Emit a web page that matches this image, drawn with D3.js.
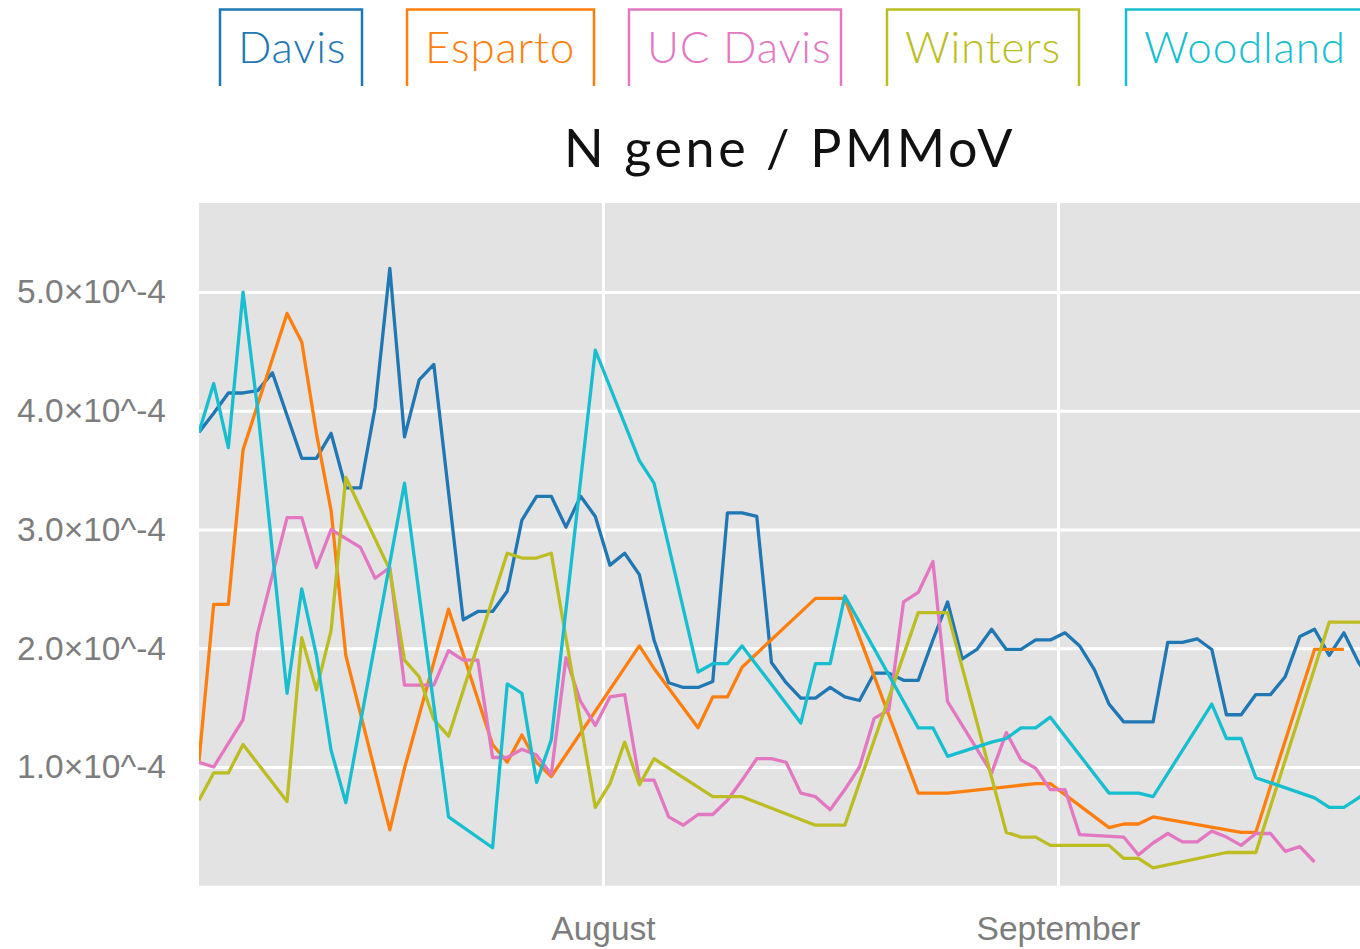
<!DOCTYPE html>
<html>
<head>
<meta charset="utf-8">
<script src="https://cdn.jsdelivr.net/npm/d3@7"></script>
<style>
  body { margin: 0; background: #fff; }
  svg { display: block; }
</style>
</head>
<body>
<div id="chart"></div>
<script>
// values are in units of 1e-4 (N gene / PMMoV), one entry per day from firstDay
var unit = 1e-4;
var firstDay = "2021-07-04 11:30";
var lastDay = "2021-09-23 00:10";

var sites = ["Davis", "Esparto", "UC Davis", "Winters", "Woodland"];
var siteColors = ["#1f77b4", "#ff7f0e", "#e377c2", "#bcbd22", "#17becf"];

var davis = [3.82, 3.98, 4.15, 4.15, 4.17, 4.32, null, 3.60, 3.60, 3.81,
  3.35, 3.35, 4.03, 5.20, 3.78, 4.26, 4.39, null, 2.24, 2.31,
  2.31, 2.48, 3.08, 3.28, 3.28, 3.02, 3.28, 3.11, 2.70, 2.80,
  2.62, 2.07, 1.71, 1.67, 1.67, 1.72, 3.14, 3.14, 3.11, 1.88,
  1.71, 1.58, 1.58, 1.67, 1.59, 1.56, 1.79, 1.79, 1.73, 1.73,
  2.07, 2.39, 1.91, 1.99, 2.16, 1.99, 1.99, 2.07, 2.07, 2.13,
  2.02, 1.82, 1.53, 1.38, 1.38, 1.38, 2.05, 2.05, 2.08, 1.99,
  1.44, 1.44, 1.61, 1.61, 1.76, 2.10, 2.16, 1.94, 2.13, 1.88,
  1.70];

var esparto = [1.05, 2.37, 2.37, 3.67, null, null, 4.82, 4.58, 3.81, 3.16,
  1.94, null, null, 0.47, 0.99, null, null, 2.33, null, null,
  1.19, 1.04, 1.27, 1.04, 0.92, null, null, null, null, null,
  2.02, 1.83, null, null, 1.33, 1.59, 1.59, 1.84, null, null,
  null, null, 2.42, 2.42, 2.42, null, null, null, null, 0.78,
  0.78, 0.78, null, null, null, null, null, 0.86, 0.86, null,
  null, null, 0.49, 0.52, 0.52, 0.58, null, null, null, null,
  null, 0.45, 0.45, null, null, null, 1.99, 1.99, 1.99, null,
  null];

var ucDavis = [1.04, 1.00, null, 1.40, 2.13, null, 3.10, 3.10, 2.68, 3.00,
  null, 2.85, 2.59, 2.68, 1.69, 1.69, 1.69, 1.98, 1.90, 1.90,
  1.08, 1.08, 1.15, 1.10, 0.94, 1.92, 1.55, 1.35, 1.59, 1.61,
  0.89, 0.89, 0.58, 0.51, 0.60, 0.60, 0.72, 0.89, 1.07, 1.07,
  1.04, 0.78, 0.75, 0.64, 0.81, 1.00, 1.41, 1.48, 2.39, 2.47,
  2.73, 1.55, null, null, 0.95, 1.29, 1.06, 0.99, 0.81, 0.81,
  0.43, null, null, 0.41, 0.26, 0.36, 0.44, 0.37, 0.37, 0.46,
  0.41, 0.34, 0.44, 0.44, 0.29, 0.33, 0.20, null, null, null,
  null];

var winters = [0.72, 0.95, 0.95, 1.19, null, null, 0.71, 2.09, 1.65, 2.15,
  3.44, null, null, 2.66, 1.90, 1.76, 1.40, 1.26, null, null,
  null, 2.80, 2.76, 2.76, 2.80, null, null, 0.66, 0.86, 1.21,
  0.85, 1.07, null, null, null, 0.75, 0.75, 0.75, null, null,
  null, null, 0.51, 0.51, 0.51, null, null, null, null, 2.30,
  2.30, 2.30, null, null, null, 0.45, 0.41, 0.41, 0.34, null,
  null, null, 0.34, 0.23, 0.23, 0.15, null, null, null, null,
  0.28, 0.28, 0.28, null, null, null, null, 2.22, 2.22, 2.22,
  2.22];

var woodland = [3.82, 4.23, 3.69, 5.00, 4.01, null, 1.62, 2.50, 1.94, 1.14,
  0.70, null, null, null, 3.39, null, null, 0.58, null, null,
  0.32, 1.70, 1.62, 0.87, 1.23, null, null, 4.51, null, null,
  3.58, 3.39, null, null, 1.80, 1.87, 1.87, 2.02, null, null,
  null, 1.37, 1.87, 1.87, 2.44, null, null, null, null, 1.33,
  1.33, 1.09, null, null, 1.21, 1.24, 1.33, 1.33, 1.42, null,
  null, null, 0.78, 0.78, 0.78, 0.75, null, null, null, 1.53,
  1.24, 1.24, 0.91, null, null, null, 0.74, 0.66, 0.66, 0.74,
  0.85];

var seriesValues = [davis, esparto, ucDavis, winters, woodland];
var yTickValues = [1, 2, 3, 4, 5];

// page layout
var svgWidth = 1360;
var svgHeight = 949;
var plot = { left: 199, top: 203, right: 1381, bottom: 885.75 };
var legendLeft = [220, 407, 629, 887, 1126];
var legendRight = [362, 594, 841, 1079, 1400];

var parseTime = d3.timeParse("%Y-%m-%d %H:%M");
var startDate = parseTime(firstDay);

var svg = d3.select("#chart")
  .append("svg")
  .attr("width", svgWidth)
  .attr("height", svgHeight);

var x = d3.scaleTime()
  .domain([startDate, parseTime(lastDay)])
  .range([plot.left, plot.right]);

var y = d3.scaleLinear()
  .domain([0, 5.75 * unit])
  .range([plot.bottom, plot.top]);

// plot background
svg.append("rect")
  .attr("x", plot.left)
  .attr("y", plot.top)
  .attr("width", plot.right - plot.left)
  .attr("height", plot.bottom - plot.top)
  .attr("fill", "#e3e3e3");

svg.append("clipPath")
  .attr("id", "plotClip")
  .append("rect")
  .attr("x", plot.left)
  .attr("y", plot.top)
  .attr("width", plot.right - plot.left)
  .attr("height", plot.bottom - plot.top);

// gridlines
var yGrid = svg.append("g")
  .attr("transform", `translate(${plot.left},0)`)
  .call(d3.axisLeft(y)
    .tickValues(yTickValues.map(d => d * unit))
    .tickSize(-(plot.right - plot.left))
    .tickFormat(""));
yGrid.select(".domain").remove();
yGrid.selectAll("line").attr("stroke", "#fff").attr("stroke-width", 3);

var xGrid = svg.append("g")
  .attr("transform", `translate(0,${plot.bottom})`)
  .call(d3.axisBottom(x)
    .ticks(d3.timeMonth.every(1))
    .tickSize(-(plot.bottom - plot.top))
    .tickFormat(""));
xGrid.select(".domain").remove();
xGrid.selectAll("line").attr("stroke", "#fff").attr("stroke-width", 3);

// axes labels
var yAxis = svg.append("g")
  .attr("transform", `translate(${plot.left},0)`)
  .call(d3.axisLeft(y)
    .tickValues(yTickValues.map(d => d * unit))
    .tickSize(0)
    .tickPadding(33)
    .tickFormat(d => (d / unit).toFixed(1) + "\u00d710^-4"));
yAxis.select(".domain").remove();
yAxis.selectAll("text")
  .attr("fill", "#7d7d7d")
  .style("font-family", "'Liberation Sans', Arial, sans-serif")
  .style("font-size", "33.5px");

var xAxis = svg.append("g")
  .attr("transform", `translate(0,${plot.bottom})`)
  .call(d3.axisBottom(x)
    .ticks(d3.timeMonth.every(1))
    .tickSize(0)
    .tickPadding(30)
    .tickFormat(d3.timeFormat("%B")));
xAxis.select(".domain").remove();
xAxis.selectAll("text")
  .attr("fill", "#7d7d7d")
  .style("font-family", "'Liberation Sans', Arial, sans-serif")
  .style("font-size", "33.5px");

// lines
var line = d3.line()
  .x(d => x(d.date))
  .y(d => y(d.value * unit));

var lineGroup = svg.append("g").attr("clip-path", "url(#plotClip)");

seriesValues.forEach(function(values, i) {
  var points = values
    .map((v, k) => ({ date: d3.timeDay.offset(startDate, k), value: v }))
    .filter(d => d.value !== null);
  lineGroup.append("path")
    .datum(points)
    .attr("fill", "none")
    .attr("stroke", siteColors[i])
    .attr("stroke-width", 3.3)
    .attr("stroke-linejoin", "round")
    .attr("d", line);
});

// title
svg.append("text")
  .attr("x", (plot.left + plot.right) / 2)
  .attr("y", 167)
  .attr("text-anchor", "middle")
  .attr("fill", "#111")
  .style("font-family", "Lato, sans-serif")
  .style("font-size", "52px")
  .style("letter-spacing", "3.6px")
  .text("N gene / PMMoV");

// legend buttons
var legend = svg.append("g").selectAll("g")
  .data(sites)
  .enter()
  .append("g");

legend.append("path")
  .attr("d", (d, i) => `M${legendLeft[i]},86V9.5H${legendRight[i]}V86`)
  .attr("fill", "none")
  .attr("stroke", (d, i) => siteColors[i])
  .attr("stroke-width", 2.5);

legend.append("text")
  .attr("x", (d, i) => legendLeft[i] + 18)
  .attr("y", 63)
  .attr("fill", (d, i) => siteColors[i])
  .style("font-family", "Lato, sans-serif")
  .style("font-weight", 300)
  .style("font-size", "44px")
  .style("letter-spacing", "0.8px")
  .text(d => d);
</script>
</body>
</html>
